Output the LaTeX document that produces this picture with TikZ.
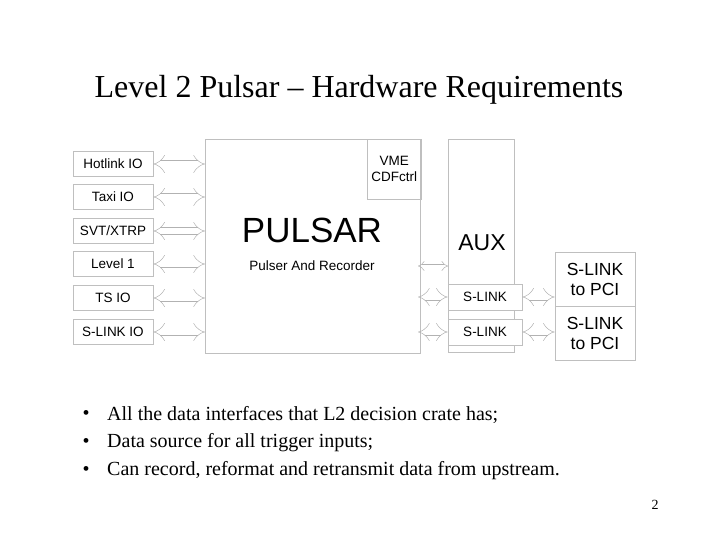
\documentclass[tikz,border=0pt]{standalone}
\usepackage{fontspec}
\setmainfont{Liberation Serif}
\newfontfamily\arial{Liberation Sans}
\usetikzlibrary{arrows}
\begin{document}
\begin{tikzpicture}[x=1pt,y=-1pt,
  box/.style={draw=black!25,line width=0.6pt,inner sep=0pt},
  lbl/.style={font=\arial\fontsize{13.5}{16}\selectfont},
  dar/.style={draw=black!30,double=white,double distance=6pt,line width=0.5pt,implies-implies}]
\useasboundingbox (0,0) rectangle (720,540);
\node (title) at (359,90) {\fontsize{32}{38}\selectfont Level 2 Pulsar -- Hardware Requirements};
% main boxes
\draw[box] (205,139) rectangle (420,353);
\node[box,minimum width=54pt,minimum height=60pt,anchor=north west,align=center,lbl] (vme) at (367,139) {VME\\CDFctrl};
\node[font=\arial\fontsize{35}{40}\selectfont] (pulsar) at (312,230) {PULSAR};
\node[font=\arial\fontsize{13.5}{16}\selectfont] (pr) at (312,266) {Pulser And Recorder};
\draw[box] (448,139) rectangle (514,352);
\node[font=\arial\fontsize{23}{27}\selectfont] (aux) at (482,243) {AUX};
\node[box,fill=white,minimum width=74pt,minimum height=26pt,lbl] (s1) at (485,297) {S-LINK};
\node[box,fill=white,minimum width=74pt,minimum height=26pt,lbl] (s2) at (485,332) {S-LINK};
\node[box,minimum width=80pt,minimum height=54pt,align=center,font=\arial\fontsize{17.5}{20}\selectfont] (p1) at (595,279) {S-LINK\\to PCI};
\node[box,minimum width=80pt,minimum height=54pt,align=center,font=\arial\fontsize{17.5}{20}\selectfont] (p2) at (595,333) {S-LINK\\to PCI};
% left boxes
\foreach \n/\t/\y in {a/{Hotlink IO}/164,b/{Taxi IO}/197,c/{SVT{/}XTRP}/231,d/{Level 1}/264,e/{TS IO}/298,f/{S-LINK IO}/332}{
  \node[box,minimum width=80pt,minimum height=25pt,lbl] (\n) at (113,\y) {\t};
  \coordinate (\n r) at (205,\y);
  \draw[dar] (\n.east) -- (\n r);
}
\coordinate (m0) at (418,266);
\coordinate (m0r) at (448,266);
\draw[dar,double distance=3pt] (m0) -- (m0r);
\coordinate (m1) at (418,297);
\coordinate (m2) at (418,332);
\draw[dar] (m1) -- (s1.west);
\draw[dar] (m2) -- (s2.west);
\draw[dar] (s1.east) -- (p1.west |- s1.east);
\draw[dar] (s2.east) -- (p2.west |- s2.east);
% bullets
\foreach \n/\y/\t in {b1/415/{All the data interfaces that L2 decision crate has;},b2/443/{Data source for all trigger inputs;},b3/471/{Can record, reformat and retransmit data from upstream.}}{
  \node[font=\fontsize{20}{24}\selectfont] (\n d) at (86,\y) {\textbullet};
  \node[anchor=west,inner sep=0pt,font=\fontsize{20}{24}\selectfont] (\n) at (107,\y) {\t};
}
\node[font=\fontsize{14}{16}\selectfont] (pg) at (655,505) {2};
\end{tikzpicture}
\end{document}
